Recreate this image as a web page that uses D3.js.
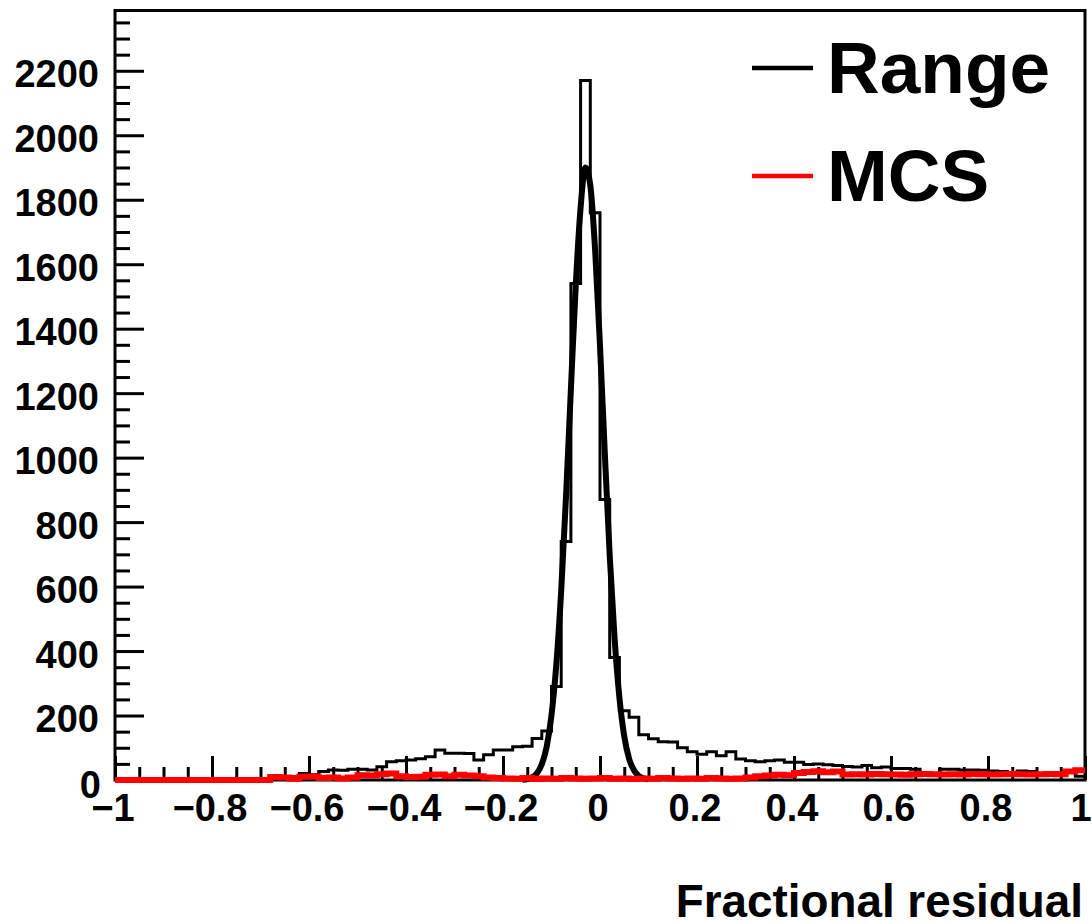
<!DOCTYPE html>
<html>
<head>
<meta charset="utf-8">
<title>Fractional residual</title>
<script src="https://d3js.org/d3.v7.min.js"></script>
<style>
body{ margin:0; background:#fff; }
svg text{ font-family:"Liberation Sans", Arial, Helvetica, sans-serif; font-weight:bold; fill:#000; }
</style>
</head>
<body>
<script>
// histogram binning: 100 bins from -1 to 1
var binLow = -1, binWidth = 0.02;

// Range histogram, counts per bin
var rangeCounts = [
	0,0,0,1,0,0,1,0,0,1,0,1,1,2,2,
	3,4,6,10,20,
	16,26,31,30,33,33,31,41,57,60,
	62,66,72,93,83,83,82,62,78,93,
	93,103,105,129,152,290,740,1540,2170,1760,
	870,380,215,195,140,128,119,118,100,88,
	80,88,75,88,65,60,57,60,62,55,
	55,48,50,47,45,42,40,45,38,40,
	36,36,33,15,20,33,33,31,31,30,
	28,26,20,28,26,15,15,15,28,12
];

// MCS histogram, counts per bin
var mcsCounts = [
	0,0,0,0,0,0,0,0,0,0,0,0,0,0,0,0,
	9,8,4,10,11,6,8,5,8,
	15,14,18,20,12,9,10,16,17,12,16,14,12,8,6,
	5,4,6,3,5,4,6,5,4,5,6,4,5,3,5,4,6,5,4,5,4,6,5,4,5,
	8,12,14,16,15,22,25,27,24,26,17,
	18,17,19,18,17,16,18,19,18,17,18,17,19,18,17,18,19,18,17,18,19,18,
	26,30
];

// fitted curve on the Range histogram (sampled points)
var fitX = [-0.16,-0.15,-0.14,-0.13,-0.12,-0.11,-0.10,-0.09,-0.08,-0.07,-0.06,-0.05,-0.04,
	-0.03,-0.02,-0.01,0.00,0.01,0.02,0.03,0.04,0.05,0.06,0.07,0.08,0.09,0.10];
var fitY = [1,3,8,21,49,103,201,359,587,881,1213,1534,1776,
	1900,1845,1643,1346,1012,697,441,256,136,66,30,12,5,2];

var yTicks = [0,200,400,600,800,1000,1200,1400,1600,1800,2000,2200];
var xTicks = [-1,-0.8,-0.6,-0.4,-0.2,0,0.2,0.4,0.6,0.8,1];
var xTickLabels = ["\u22121","\u22120.8","\u22120.6","\u22120.4","\u22120.2","0","0.2","0.4","0.6","0.8","1"];
var legendNames = ["Range","MCS"];
var legendColors = ["#000","#ff0000"];

var width = 1092, height = 924;
// plot frame (note: "top" is reserved on window, so use frame*)
var frameL = 115, frameR = 1085, frameT = 10.5, frameB = 780;

var svg = d3.select("body").append("svg")
	.attr("width", width)
	.attr("height", height);

svg.append("rect").attr("width", width).attr("height", height).attr("fill", "#fff");

var x = d3.scaleLinear().domain([-1, 1]).range([frameL, frameR]);
var y = d3.scaleLinear().domain([0, 2387]).range([frameB, frameT]);

// frame
svg.append("rect")
	.attr("x", frameL).attr("y", frameT)
	.attr("width", frameR - frameL).attr("height", frameB - frameT)
	.attr("fill", "none").attr("stroke", "#000").attr("stroke-width", 3);

/******** TICKS (ROOT style, pointing inward) *********/
var yMinor = d3.range(0, 2387, 50).filter(function(d){ return d % 200 !== 0; });
var xMinor = d3.range(-20, 21).map(function(d){ return d * 0.05; })
	.filter(function(d){ return Math.abs(Math.round(d * 5) - d * 5) > 1e-6; });

function tickAxis(axis, tx, ty){
	var g = svg.append("g").attr("transform", "translate(" + tx + "," + ty + ")").call(axis);
	g.select(".domain").remove();
	g.selectAll("line").attr("stroke-width", 3);
	g.selectAll("text").remove();
	return g;
}
tickAxis(d3.axisLeft(y).tickValues(yTicks).tickSize(-29).tickFormat(""), frameL, 0);
tickAxis(d3.axisLeft(y).tickValues(yMinor).tickSize(-15).tickFormat(""), frameL, 0);
tickAxis(d3.axisBottom(x).tickValues(xTicks).tickSize(-24).tickFormat(""), 0, frameB);
tickAxis(d3.axisBottom(x).tickValues(xMinor).tickSize(-13).tickFormat(""), 0, frameB);

// tick labels
svg.selectAll(".ylab")
	.data(yTicks)
	.enter().append("text")
	.attr("class", "ylab")
	.attr("x", function(d){ return d === 0 ? 101 : 99; })
	.attr("y", function(d){ return d === 0 ? 798 : y(d) + 16.5; })
	.attr("text-anchor", "end")
	.style("font-size", "38px")
	.text(function(d){ return d; });

svg.selectAll(".xlab")
	.data(xTicks)
	.enter().append("text")
	.attr("class", "xlab")
	.attr("x", function(d, i){ return x(d) - (i === xTicks.length - 1 ? 4 : 2); })
	.attr("y", 821)
	.attr("text-anchor", "middle")
	.style("font-size", "38px")
	.text(function(d, i){ return xTickLabels[i]; });

svg.append("text")
	.attr("x", 1083).attr("y", 917)
	.attr("text-anchor", "end")
	.style("font-size", "45.8px")
	.text("Fractional residual");

/******** HISTOGRAMS *********/
function histPoints(counts){
	var pts = [[binLow, 0]];
	counts.forEach(function(c, i){ pts.push([binLow + i * binWidth, c]); });
	pts.push([binLow + counts.length * binWidth, counts[counts.length - 1]]);
	return pts;
}

var step = d3.line()
	.x(function(d){ return x(d[0]); })
	.y(function(d){ return y(d[1]); })
	.curve(d3.curveStepAfter);

svg.append("path")
	.datum(histPoints(rangeCounts))
	.attr("d", step)
	.attr("fill", "none")
	.attr("stroke", "#000")
	.attr("stroke-width", 3);

var fitLine = d3.line()
	.x(function(d, i){ return x(fitX[i]); })
	.y(function(d){ return y(d); })
	.curve(d3.curveMonotoneX);

svg.append("path")
	.datum(fitY)
	.attr("d", fitLine)
	.attr("fill", "none")
	.attr("stroke", "#000")
	.attr("stroke-width", 6)
	.attr("stroke-linejoin", "round");

svg.append("path")
	.datum(histPoints(mcsCounts))
	.attr("d", step)
	.attr("fill", "none")
	.attr("stroke", "#ff0000")
	.attr("stroke-width", 6);

/******** LEGEND *********/
var leg = svg.selectAll(".leg")
	.data(legendNames)
	.enter().append("g")
	.attr("class", "leg")
	.attr("transform", function(d, i){ return "translate(0," + (i * 108) + ")"; });

leg.append("line")
	.attr("x1", 752).attr("x2", 813)
	.attr("y1", 68).attr("y2", 68)
	.attr("stroke", function(d, i){ return legendColors[i]; })
	.attr("stroke-width", 4.5);

leg.append("text")
	.attr("x", 827).attr("y", 93)
	.style("font-size", "73px")
	.text(function(d){ return d; });
</script>
</body>
</html>
